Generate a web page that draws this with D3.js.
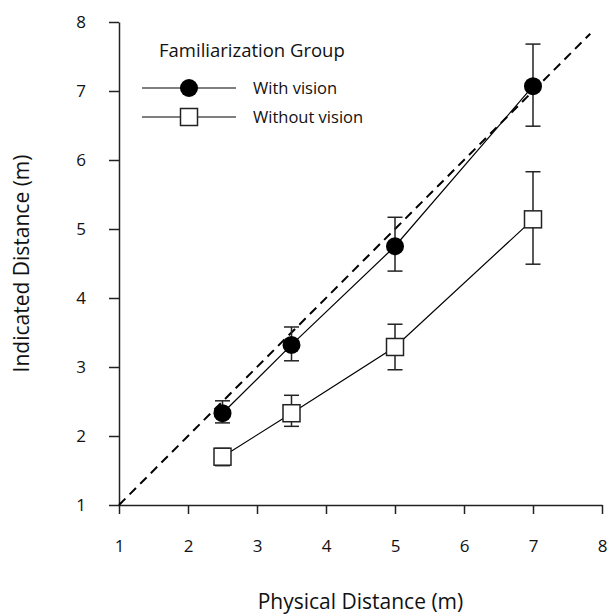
<!DOCTYPE html>
<html lang="en">
<head>
    <meta charset="UTF-8">
    <title>Indicated vs Physical Distance</title>
    <script src="https://d3js.org/d3.v7.min.js"></script>
    <style>
        body {
            margin: 0;
            background: #fff;
            font-family: "Open Sans", Arial, sans-serif;
        }
    </style>
</head>
<body>
    <div id="chart"></div>

    <script>
        // Data
        const physical = [2.5, 3.5, 5, 7];
        const withVision = [2.33, 3.32, 4.75, 7.07];
        const withVisionLow = [2.19, 3.09, 4.39, 6.49];
        const withVisionHigh = [2.51, 3.58, 5.17, 7.68];
        const withoutVision = [1.70, 2.33, 3.29, 5.14];
        const withoutVisionLow = [1.57, 2.14, 2.96, 4.49];
        const withoutVisionHigh = [1.82, 2.59, 3.62, 5.83];
        const xTicks = [1, 2, 3, 4, 5, 6, 7, 8];
        const yTicks = [1, 2, 3, 4, 5, 6, 7, 8];
        const identityLine = [1, 7.83];
        const seriesNames = ["With vision", "Without vision"];

        const width = 608, height = 614;
        const margin = { top: 22, right: 6, bottom: 109, left: 119 };

        const svg = d3.select("#chart")
            .append("svg")
            .attr("width", width)
            .attr("height", height);

        const x = d3.scaleLinear().domain([1, 8]).range([margin.left, width - margin.right]);
        const y = d3.scaleLinear().domain([1, 8]).range([height - margin.bottom, margin.top]);

        // axes
        const xAxis = svg.append("g")
            .attr("transform", `translate(0,${y(1)})`)
            .call(d3.axisBottom(x).tickValues(xTicks).tickFormat(d3.format("d"))
                .tickSize(9).tickPadding(26).tickSizeOuter(0));
        const yAxis = svg.append("g")
            .attr("transform", `translate(${x(1)},0)`)
            .call(d3.axisLeft(y).tickValues(yTicks).tickFormat(d3.format("d"))
                .tickSize(10).tickPadding(23).tickSizeOuter(0));

        [xAxis, yAxis].forEach(a => {
            a.select(".domain").attr("stroke", "#222").attr("stroke-width", 1.5);
            a.selectAll(".tick line").attr("stroke", "#222").attr("stroke-width", 1.5);
            a.selectAll(".tick text")
                .attr("fill", "#111")
                .style("font-family", "'Open Sans', sans-serif")
                .style("font-size", "17px");
        });

        // axis titles
        svg.append("text")
            .attr("x", (x(1) + x(8)) / 2)
            .attr("y", 609)
            .attr("text-anchor", "middle")
            .style("font-size", "21px")
            .attr("fill", "#111")
            .text("Physical Distance (m)");

        svg.append("text")
            .attr("transform", `translate(29,${(y(1) + y(8)) / 2}) rotate(-90)`)
            .attr("text-anchor", "middle")
            .style("font-size", "21px")
            .attr("fill", "#111")
            .text("Indicated Distance (m)");

        // identity (dashed) line
        svg.append("line")
            .attr("x1", x(identityLine[0])).attr("y1", y(identityLine[0]))
            .attr("x2", x(identityLine[1])).attr("y2", y(identityLine[1]))
            .attr("stroke", "#000")
            .attr("stroke-width", 2)
            .attr("stroke-dasharray", "9,6");

        const line = d3.line().x(d => x(d[0])).y(d => y(d[1]));

        function drawSeries(vals, lows, highs, marker) {
            const pts = physical.map((p, i) => [p, vals[i]]);
            svg.append("path")
                .datum(pts)
                .attr("fill", "none")
                .attr("stroke", "#000")
                .attr("stroke-width", 1.2)
                .attr("d", line);

            const eb = svg.append("g").attr("stroke", "#222").attr("stroke-width", 1.5);
            physical.forEach((p, i) => {
                eb.append("line")
                    .attr("x1", x(p)).attr("x2", x(p))
                    .attr("y1", y(lows[i])).attr("y2", y(highs[i]));
                [lows[i], highs[i]].forEach(v => {
                    eb.append("line")
                        .attr("x1", x(p) - 7.5).attr("x2", x(p) + 7.5)
                        .attr("y1", y(v)).attr("y2", y(v));
                });
            });

            pts.forEach(d => marker(svg, x(d[0]), y(d[1])));
        }

        function circleMarker(g, cx, cy) {
            g.append("circle").attr("cx", cx).attr("cy", cy).attr("r", 9).attr("fill", "#000");
        }
        function squareMarker(g, cx, cy) {
            g.append("rect")
                .attr("x", cx - 8.5).attr("y", cy - 8.5)
                .attr("width", 17).attr("height", 17)
                .attr("fill", "#fff").attr("stroke", "#222").attr("stroke-width", 1.5);
        }

        drawSeries(withVision, withVisionLow, withVisionHigh, circleMarker);
        drawSeries(withoutVision, withoutVisionLow, withoutVisionHigh, squareMarker);

        // legend
        const legend = svg.append("g");
        legend.append("text")
            .attr("x", 159).attr("y", 57)
            .style("font-size", "18.5px")
            .attr("fill", "#111")
            .text("Familiarization Group");

        const markers = [circleMarker, squareMarker];
        seriesNames.forEach((name, i) => {
            const ly = 88 + i * 29;
            legend.append("line")
                .attr("x1", 142).attr("x2", 236)
                .attr("y1", ly).attr("y2", ly)
                .attr("stroke", "#000").attr("stroke-width", 1.2);
            markers[i](legend, 189, ly);
            legend.append("text")
                .attr("x", 253).attr("y", ly + 5.5)
                .style("font-size", "16.5px")
                .attr("fill", "#111")
                .text(name);
        });
    </script>
</body>
</html>
